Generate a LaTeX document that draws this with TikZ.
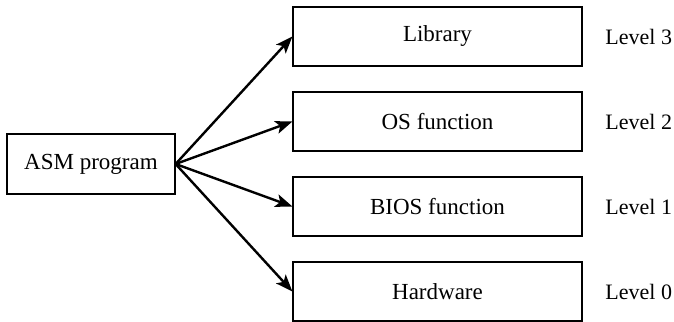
\documentclass[tikz,border=0pt]{standalone}
\usepackage{fontspec}
\setmainfont{Liberation Serif}
\usetikzlibrary{arrows.meta}

\begin{document}
\begin{tikzpicture}[x=0.5pt,y=-0.5pt,
	font=\fontsize{11.5}{13}\selectfont,
	levelbox/.style={draw,line width=0.6pt,minimum width=144.5pt,minimum height=29.5pt,inner sep=0pt},
	levellabel/.style={anchor=west,inner sep=0pt,font=\fontsize{11}{13}\selectfont},
	callarrow/.style={line width=1.2pt,-{Stealth[length=8.5pt,width=6.5pt,inset=2pt]}}]
	\useasboundingbox (0,0) rectangle (674,321);

	%BOXES
	\node[draw,line width=0.6pt,minimum width=84pt,minimum height=30pt,inner sep=0pt] (asm) at (91,164) {ASM program};
	\node[levelbox] (lib)  at (437.5, 36.5) {Library};
	\node[levelbox] (os)   at (437.5,121.5) {OS function};
	\node[levelbox] (bios) at (437.5,206.5) {BIOS function};
	\node[levelbox] (hw)   at (437.5,291.5) {Hardware};

	%ARROWS
	\draw[callarrow] (asm.east) -- (lib.west);
	\draw[callarrow] (asm.east) -- (os.west);
	\draw[callarrow] (asm.east) -- (bios.west);
	\draw[callarrow] (asm.east) -- (hw.west);

	%LABELS
	\node[levellabel] (l3) at (605, 36.5) {Level 3};
	\node[levellabel] (l2) at (605,121.5) {Level 2};
	\node[levellabel] (l1) at (605,206.5) {Level 1};
	\node[levellabel] (l0) at (605,291.5) {Level 0};
\end{tikzpicture}
\end{document}
